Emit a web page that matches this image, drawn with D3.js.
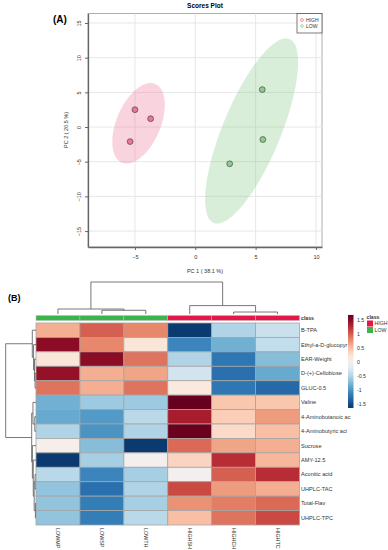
<!DOCTYPE html>
<html>
<head>
<meta charset="utf-8">
<script src="https://cdn.jsdelivr.net/npm/d3@7"></script>
<style>
  body { margin: 0; background: #fff; }
  svg { font-family: "Liberation Sans", Arial, sans-serif; }
</style>
</head>
<body>
<div id="chart"></div>
<script>
// ---- (A) scores plot data ----
var groups = ["HIGH", "LOW"];
var pc1High = [-5.0, -3.7, -5.4];
var pc2High = [2.5, 1.2, -2.1];
var pc1Low = [5.55, 5.6, 2.85];
var pc2Low = [5.4, -1.8, -5.3];
var xTicks = [-5, 0, 5, 10];
var yTicks = [-15, -10, -5, 0, 5, 10, 15];

// ---- (B) heatmap data ----
var samples = ["LOWMP", "LOWSP", "LOWTH", "HIGHSH", "HIGHCH", "HIGHTC"];
var sampleClass = ["LOW", "LOW", "LOW", "HIGH", "HIGH", "HIGH"];
var features = ["B-TPA", "Ethyl-a-D-glucopyr", "EAR-Weight", "D-(+)-Cellobiose", "GLUC-0.5",
  "Valine", "4-Aminobutanoic ac", "4-Aminobutyric aci", "Sucrose", "AMY-12.5",
  "Aconitic acid", "UHPLC-TAC", "Total-Flav", "UHPLC-TPC"];
var zScores = [
  [0.6, 1.0, 0.8, -1.6, -0.5, -0.35],
  [1.5, 0.8, 0.2, -1.1, -0.8, -0.4],
  [0.2, 1.5, 0.9, -0.5, -1.2, -0.7],
  [1.45, 0.6, 0.65, -0.3, -1.25, -0.85],
  [0.9, 0.6, 0.9, 0.15, -1.2, -1.3],
  [-0.8, -0.6, -0.6, 1.7, 0.45, 0.45],
  [-0.85, -0.95, -0.45, 1.35, 0.4, 0.7],
  [-0.5, -1.0, -0.5, 1.65, 0.3, 0.5],
  [0.05, -0.7, -1.6, 0.95, 0.65, 0.6],
  [-1.6, -0.55, 0.0, 0.35, 1.25, 0.55],
  [-0.45, -1.1, -0.55, 0.0, 1.0, 1.25],
  [-0.65, -1.25, -0.5, 1.1, 0.7, 0.6],
  [-0.65, -1.15, -0.55, 0.75, 0.85, 0.95],
  [-0.65, -1.15, -0.45, 0.5, 0.9, 1.1]
];
var legendTicks = [-1.5, -1, -0.5, 0, 0.5, 1, 1.5];
// dendrograms: [height, left, right]
var colTree = [8, [1.25, "LOWMP", [0.93, "LOWSP", "LOWTH"]], [2.1, "HIGHSH", [0.5, "HIGHCH", "HIGHTC"]]];
var rowTree = [1,
  [0.122, "B-TPA", [0.08, "Ethyl-a-D-glucopyr", [0.05, "EAR-Weight", [0.03, "D-(+)-Cellobiose", "GLUC-0.5"]]]],
  [0.142,
    [0.1, "Valine", [0.04, "4-Aminobutanoic ac", "4-Aminobutyric aci"]],
    [0.12, "Sucrose", [0.09, "AMY-12.5", [0.06, [0.03, "Aconitic acid", "UHPLC-TAC"], [0.02, "Total-Flav", "UHPLC-TPC"]]]]]
];

var classColor = {HIGH: "#e4174a", LOW: "#3cb44a"};
var pointFill = {HIGH: "#ec7698", LOW: "#8ccd8f"};
var ellipseFill = {HIGH: "rgba(236,112,150,0.3)", LOW: "rgba(125,200,125,0.3)"};

var svg = d3.select("#chart").append("svg")
  .attr("width", 388).attr("height", 550);

// =========== (A) Scores plot ===========
var x = d3.scaleLinear().domain([-8.89, 10.5]).range([88, 322]);
var y = d3.scaleLinear().domain([-17.3, 16.37]).range([247, 13.5]);

svg.append("text").attr("x", 205).attr("y", 8).attr("text-anchor", "middle")
  .style("font-size", "6.5px").style("font-weight", "700").text("Scores Plot");
svg.append("text").attr("x", 53).attr("y", 23)
  .style("font-size", "10px").style("font-weight", "700").text("(A)");

var panel = svg.append("g");
panel.append("rect").attr("x", 88).attr("y", 13.5).attr("width", 234).attr("height", 233.5)
  .attr("fill", "none").attr("stroke", "#999").attr("stroke-width", 0.8);

// grid
panel.selectAll(".gx").data(xTicks).enter().append("line")
  .attr("x1", function(d){ return x(d); }).attr("x2", function(d){ return x(d); })
  .attr("y1", 13.5).attr("y2", 247).attr("stroke", "#e4e4e4").attr("stroke-width", 0.9);
panel.selectAll(".gy").data(yTicks).enter().append("line")
  .attr("y1", function(d){ return y(d); }).attr("y2", function(d){ return y(d); })
  .attr("x1", 88).attr("x2", 322).attr("stroke", "#e4e4e4").attr("stroke-width", 0.9);

// 95% confidence ellipses
var chi = Math.sqrt(5.991);
function ellipsePath(px, py) {
  var n = px.length;
  var mx = d3.mean(px), my = d3.mean(py);
  var sxx = 0, syy = 0, sxy = 0;
  for (var i = 0; i < n; i++) {
    sxx += (px[i]-mx)*(px[i]-mx);
    syy += (py[i]-my)*(py[i]-my);
    sxy += (px[i]-mx)*(py[i]-my);
  }
  sxx /= (n-1); syy /= (n-1); sxy /= (n-1);
  var a = Math.sqrt(sxx), b = sxy / a, c = Math.sqrt(syy - b*b);
  var pts = d3.range(0, 101).map(function(k){
    var t = k / 100 * 2 * Math.PI;
    return [x(mx + chi*a*Math.cos(t)), y(my + chi*(b*Math.cos(t) + c*Math.sin(t)))];
  });
  return d3.line()(pts) + "Z";
}
var groupPts = {HIGH: [pc1High, pc2High], LOW: [pc1Low, pc2Low]};
groups.forEach(function(gname){
  panel.append("path").attr("d", ellipsePath(groupPts[gname][0], groupPts[gname][1]))
    .attr("fill", ellipseFill[gname]).attr("stroke", "none");
});
groups.forEach(function(gname){
  var px = groupPts[gname][0], py = groupPts[gname][1];
  panel.selectAll(".pt" + gname).data(px).enter().append("circle")
    .attr("cx", function(d){ return x(d); })
    .attr("cy", function(d, i){ return y(py[i]); })
    .attr("r", 2.9).attr("fill", pointFill[gname])
    .attr("stroke", "#333").attr("stroke-width", 0.6);
});

// axes
var xAxis = svg.append("g").attr("transform", "translate(0,247)")
  .call(d3.axisBottom(x).tickValues(xTicks).tickSize(3).tickSizeOuter(0).tickFormat(d3.format("d")));
xAxis.select(".domain").attr("stroke", "#666").attr("stroke-width", 1.3);
xAxis.selectAll(".tick line").attr("stroke", "#666");
xAxis.selectAll(".tick text").style("font-size", "5.5px").attr("fill", "#333").attr("y", 8);

var yAxis = svg.append("g").attr("transform", "translate(88,0)")
  .call(d3.axisLeft(y).tickValues(yTicks).tickSize(3).tickSizeOuter(0).tickFormat(d3.format("d")));
yAxis.select(".domain").attr("stroke", "#666").attr("stroke-width", 1.3);
yAxis.selectAll(".tick line").attr("stroke", "#666");
yAxis.selectAll(".tick text").style("font-size", "5.5px").attr("fill", "#333")
  .attr("transform", "rotate(-90)").attr("x", 0).attr("y", -7).attr("dy", 0)
  .attr("text-anchor", "middle");

svg.append("text").attr("x", 205).attr("y", 273).attr("text-anchor", "middle")
  .style("font-size", "5.5px").attr("fill", "#333").text("PC 1 ( 38.1 %)");
svg.append("text").attr("transform", "translate(68,130) rotate(-90)").attr("text-anchor", "middle")
  .style("font-size", "5.5px").attr("fill", "#333").text("PC 2 ( 20.5 %)");

// legend
var lg = svg.append("g");
lg.append("rect").attr("x", 297).attr("y", 13.5).attr("width", 25).attr("height", 19.5)
  .attr("fill", "#fff").attr("stroke", "#444").attr("stroke-width", 0.7);
groups.forEach(function(gname, i){
  lg.append("circle").attr("cx", 302).attr("cy", 20 + i*6).attr("r", 1.4)
    .attr("fill", "none").attr("stroke", pointFill[gname]).attr("stroke-width", 0.8);
  lg.append("text").attr("x", 306).attr("y", 22 + i*6).style("font-size", "5px")
    .attr("fill", "#333").text(gname);
});

// =========== (B) Heatmap ===========
svg.append("text").attr("x", 8).attr("y", 301)
  .style("font-size", "9px").style("font-weight", "700").text("(B)");

var cx = d3.scaleBand().domain(samples).range([36, 299.5]);
var ry = d3.scaleBand().domain(features).range([323, 525]);
var zColor = function(v){ return d3.interpolateRdBu(1 - (v + 1.66) / 3.32); };

var hm = svg.append("g");
features.forEach(function(f, r){
  hm.selectAll(".c" + r).data(zScores[r]).enter().append("rect")
    .attr("x", function(d, i){ return cx(samples[i]); })
    .attr("y", ry(f))
    .attr("width", cx.bandwidth()).attr("height", ry.bandwidth())
    .attr("fill", function(d){ return zColor(d); })
    .attr("stroke", "#a5a5a5").attr("stroke-width", 0.8);
});

// class bar
hm.selectAll(".cls").data(sampleClass).enter().append("rect")
  .attr("x", function(d, i){ return cx(samples[i]); })
  .attr("y", 315.5).attr("width", cx.bandwidth()).attr("height", 5)
  .attr("fill", function(d){ return classColor[d]; })
  .attr("stroke", "#bbb").attr("stroke-width", 0.5);
svg.append("text").attr("x", 301).attr("y", 320).style("font-size", "5.2px")
  .style("font-weight", "700").attr("fill", "#333").text("class");

// row labels
svg.selectAll(".rl").data(features).enter().append("text")
  .attr("x", 301).attr("y", function(d){ return ry(d) + ry.bandwidth()/2; })
  .attr("dy", "0.35em").style("font-size", "5.6px").attr("fill", "#333")
  .text(function(d){ return d; });

// column labels
svg.selectAll(".cl").data(samples).enter().append("text")
  .attr("transform", function(d){ return "translate(" + (cx(d) + cx.bandwidth()/2) + ",528) rotate(90)"; })
  .attr("dy", "0.35em").style("font-size", "5.4px").attr("fill", "#333")
  .text(function(d){ return d; });

// dendrograms
function drawTree(g, node, leafPos, pt) {
  if (typeof node === "string") return {c: leafPos(node), h: 0};
  var h = node[0];
  var L = drawTree(g, node[1], leafPos, pt);
  var R = drawTree(g, node[2], leafPos, pt);
  g.append("path")
    .attr("d", d3.line()([pt(L.c, L.h), pt(L.c, h), pt(R.c, h), pt(R.c, R.h)]))
    .attr("fill", "none").attr("stroke", "#555").attr("stroke-width", 0.8);
  return {c: (L.c + R.c) / 2, h: h};
}
var colH = d3.scaleLinear().domain([0, 8]).range([314, 282]);
drawTree(svg.append("g"), colTree,
  function(s){ return cx(s) + cx.bandwidth()/2; },
  function(c, h){ return [c, colH(h)]; });
var rowH = d3.scaleLinear().domain([0, 1]).range([36, 5.7]);
drawTree(svg.append("g"), rowTree,
  function(f){ return ry(f) + ry.bandwidth()/2; },
  function(c, h){ return [rowH(h), c]; });

// colour key
var ly = d3.scaleLinear().domain([-1.5, 1.5]).range([404.3, 320]);
var grad = svg.append("defs").append("linearGradient").attr("id", "zgrad")
  .attr("x1", 0).attr("y1", 1).attr("x2", 0).attr("y2", 0);
d3.range(0, 21).forEach(function(k){
  var v = -1.63 + k / 20 * (1.68 + 1.63);
  grad.append("stop").attr("offset", (k / 20 * 100) + "%").attr("stop-color", zColor(v));
});
svg.append("rect").attr("x", 348).attr("y", ly(1.68)).attr("width", 5.5)
  .attr("height", ly(-1.63) - ly(1.68)).attr("fill", "url(#zgrad)");
svg.selectAll(".lt").data(legendTicks).enter().append("text")
  .attr("x", 357).attr("y", function(d){ return ly(d); }).attr("dy", "0.35em")
  .style("font-size", "5.2px").attr("fill", "#333").text(function(d){ return d; });

var cl = svg.append("g");
cl.append("text").attr("x", 366.5).attr("y", 319).style("font-size", "5.2px")
  .style("font-weight", "700").attr("fill", "#333").text("class");
groups.forEach(function(gname, i){
  cl.append("rect").attr("x", 367).attr("y", 320.5 + i*6.5).attr("width", 6).attr("height", 6)
    .attr("fill", classColor[gname]);
  cl.append("text").attr("x", 374.5).attr("y", 323.5 + i*6.5).attr("dy", "0.35em")
    .style("font-size", "5.2px").attr("fill", "#333").text(gname);
});
</script>
</body>
</html>
